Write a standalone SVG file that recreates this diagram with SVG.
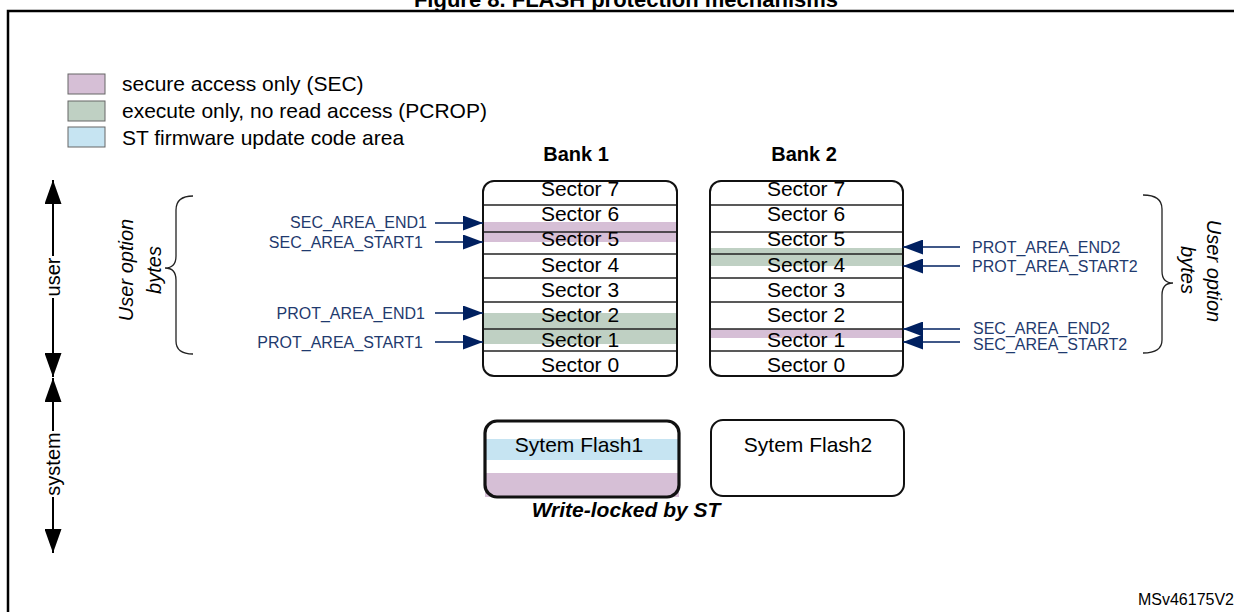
<svg xmlns="http://www.w3.org/2000/svg" width="1234" height="612" viewBox="0 0 1234 612">
<style>
text{font-family:"Liberation Sans",Arial,sans-serif;fill:#000}
.lbl{font-size:16px;fill:#1F3A6E}
.sec{font-size:21px;text-anchor:middle}
.leg{font-size:21px}
.bank{font-size:20px;font-weight:bold;text-anchor:middle}
.it{font-size:20px;font-style:italic;text-anchor:middle}
.ax{font-size:20px;text-anchor:middle}
.box{fill:none;stroke:#111;stroke-width:2}
.div{stroke:#222;stroke-width:1.4}
.purple{fill:#D6BFD6}
.green{fill:#BFD0C3}
.blue{fill:#C6E4F2}
.narrow{stroke:#002060;stroke-width:1.5;fill:none;marker-end:url(#nh)}
.barrow{stroke:#000;stroke-width:2;fill:none;marker-end:url(#bh)}
.brace{fill:none;stroke:#222;stroke-width:1.3}
</style>
<defs>
<marker id="nh" markerUnits="userSpaceOnUse" markerWidth="20" markerHeight="15" refX="20" refY="7.5" orient="auto"><path d="M0,0 L20,7.5 L0,15 z" fill="#002060"/></marker>
<marker id="bh" markerUnits="userSpaceOnUse" markerWidth="24" markerHeight="17" refX="24" refY="8.5" orient="auto"><path d="M0,0 L24,8.5 L0,17 z" fill="#000"/></marker>
</defs>
<rect width="1234" height="612" fill="#fff"/>
<g id="frame">
<path d="M8,612 L8,11 L1234,11" fill="none" stroke="#000" stroke-width="2.5"/>
<text x="626" y="7" font-size="22" font-weight="bold" text-anchor="middle">Figure 8. FLASH protection mechanisms</text>
</g>
<g id="legend">
<rect x="68" y="74" width="37" height="20" class="purple" stroke="#666" stroke-width="1"/>
<rect x="68" y="101" width="37" height="20" class="green" stroke="#666" stroke-width="1"/>
<rect x="68" y="127" width="37" height="20" class="blue" stroke="#666" stroke-width="1"/>
<text x="122" y="91" class="leg">secure access only (SEC)</text>
<text x="122" y="118" class="leg">execute only, no read access (PCROP)</text>
<text x="122" y="145" class="leg">ST firmware update code area</text>
</g>
<g id="bank1">
<text x="576" y="161" class="bank">Bank 1</text>
<rect x="484" y="222" width="192" height="20" class="purple"/>
<rect x="484" y="313" width="192" height="31" class="green"/>
<g class="div">
<line x1="483" y1="205" x2="677" y2="205"/><line x1="483" y1="232" x2="677" y2="232"/><line x1="483" y1="254" x2="677" y2="254"/><line x1="483" y1="278" x2="677" y2="278"/><line x1="483" y1="302" x2="677" y2="302"/><line x1="483" y1="329" x2="677" y2="329"/><line x1="483" y1="351" x2="677" y2="351"/>
</g>
<text x="580" y="196" class="sec">Sector 7</text>
<text x="580" y="221" class="sec">Sector 6</text>
<text x="580" y="246" class="sec">Sector 5</text>
<text x="580" y="272" class="sec">Sector 4</text>
<text x="580" y="297" class="sec">Sector 3</text>
<text x="580" y="322" class="sec">Sector 2</text>
<text x="580" y="347" class="sec">Sector 1</text>
<text x="580" y="372" class="sec">Sector 0</text>
<rect x="483" y="181" width="194" height="195" rx="11" class="box"/>
</g>
<g id="bank2">
<text x="804" y="161" class="bank">Bank 2</text>
<rect x="711" y="248" width="191" height="18" class="green"/>
<rect x="711" y="329" width="191" height="9" class="purple"/>
<g class="div">
<line x1="710" y1="205" x2="903" y2="205"/><line x1="710" y1="232" x2="903" y2="232"/><line x1="710" y1="254" x2="903" y2="254"/><line x1="710" y1="278" x2="903" y2="278"/><line x1="710" y1="302" x2="903" y2="302"/><line x1="710" y1="329" x2="903" y2="329"/><line x1="710" y1="351" x2="903" y2="351"/>
</g>
<text x="806" y="196" class="sec">Sector 7</text>
<text x="806" y="221" class="sec">Sector 6</text>
<text x="806" y="246" class="sec">Sector 5</text>
<text x="806" y="272" class="sec">Sector 4</text>
<text x="806" y="297" class="sec">Sector 3</text>
<text x="806" y="322" class="sec">Sector 2</text>
<text x="806" y="347" class="sec">Sector 1</text>
<text x="806" y="372" class="sec">Sector 0</text>
<rect x="710" y="181" width="193" height="195" rx="11" class="box"/>
</g>
<g id="sysflash1">
<rect x="486" y="439" width="192" height="21" class="blue"/>
<rect x="485" y="473" width="194" height="24" class="purple"/>
<rect x="485" y="421" width="194" height="76" rx="12" fill="none" stroke="#111" stroke-width="3.2"/>
<text x="579" y="452" class="sec">Sytem Flash1</text>
<text x="626" y="517" font-size="21" font-weight="bold" font-style="italic" text-anchor="middle">Write-locked by ST</text>
</g>
<g id="sysflash2">
<rect x="711" y="420" width="193" height="76" rx="12" class="box"/>
<text x="808" y="452" class="sec">Sytem Flash2</text>
</g>
<g id="labels">
<text x="427" y="228" class="lbl" text-anchor="end">SEC_AREA_END1</text>
<text x="423" y="248" class="lbl" text-anchor="end">SEC_AREA_START1</text>
<text x="425" y="319" class="lbl" text-anchor="end">PROT_AREA_END1</text>
<text x="423" y="348" class="lbl" text-anchor="end">PROT_AREA_START1</text>
<text x="972" y="253" class="lbl">PROT_AREA_END2</text>
<text x="972" y="272" class="lbl">PROT_AREA_START2</text>
<text x="973" y="334" class="lbl">SEC_AREA_END2</text>
<text x="973" y="350" class="lbl">SEC_AREA_START2</text>
<text transform="translate(133,270) rotate(-90)" class="it">User option</text>
<text transform="translate(161,270) rotate(-90)" class="it">bytes</text>
<text transform="translate(1207,271) rotate(90)" class="it">User option</text>
<text transform="translate(1181,270) rotate(90)" class="it">bytes</text>
<text transform="translate(60,277) rotate(-90)" class="ax">user</text>
<text transform="translate(60,464) rotate(-90)" class="ax">system</text>
<text x="1234" y="605" font-size="16" text-anchor="end">MSv46175V2</text>
</g>
<g id="connectors">
<line x1="435" y1="223" x2="483" y2="223" class="narrow"/>
<line x1="435" y1="242" x2="483" y2="242" class="narrow"/>
<line x1="435" y1="313" x2="483" y2="313" class="narrow"/>
<line x1="435" y1="342" x2="483" y2="342" class="narrow"/>
<line x1="960" y1="247" x2="903" y2="247" class="narrow"/>
<line x1="960" y1="266" x2="903" y2="266" class="narrow"/>
<line x1="960" y1="329" x2="903" y2="329" class="narrow"/>
<line x1="960" y1="342" x2="903" y2="342" class="narrow"/>
<line x1="53" y1="256" x2="53" y2="180" class="barrow"/>
<line x1="53" y1="298" x2="53" y2="377" class="barrow"/>
<line x1="53" y1="431" x2="53" y2="378" class="barrow"/>
<line x1="53" y1="497" x2="53" y2="553" class="barrow"/>
<path class="brace" d="M193,196 Q176,196 176,210 L176,256 Q176,268 165,268 Q176,268 176,280 L176,341 Q176,354 193,354"/>
<path class="brace" d="M1143,195 Q1162,195 1162,209 L1162,271 Q1162,283 1173,283 Q1162,283 1162,295 L1162,340 Q1162,353 1143,353"/>
</g>
</svg>
